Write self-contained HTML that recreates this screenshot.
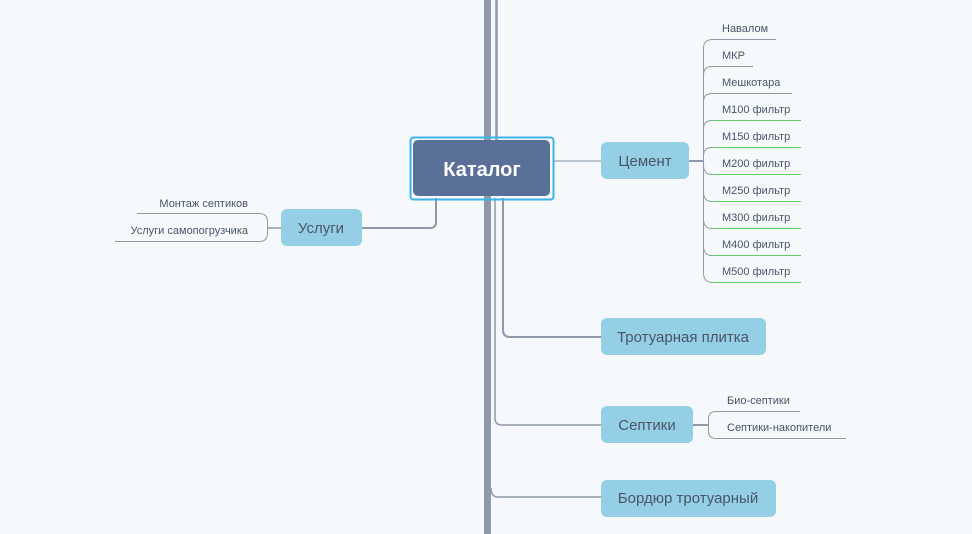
<!DOCTYPE html>
<html><head><meta charset="utf-8"><style>
html,body{margin:0;padding:0;background:#f5f9fc;width:972px;height:534px;overflow:hidden}
svg{display:block}
text{font-family:"Liberation Sans","DejaVu Sans",sans-serif}
</style></head><body>
<svg width="972" height="534" viewBox="0 0 972 534">
<rect width="972" height="534" fill="#f5f9fc"/>
<!-- trunk lines -->
<rect x="484" y="0" width="7" height="534" fill="#8f99aa"/>
<line x1="496.5" y1="0" x2="496.5" y2="140" stroke="#8f99aa" stroke-width="2.5"/>
<path d="M503 198 V330 Q503 337 510 337 H601" fill="none" stroke="#8f99aa" stroke-width="2"/>
<path d="M495 198 V418 Q495 425 502 425 H601" fill="none" stroke="#8f99aa" stroke-width="1.5"/>
<path d="M491 488 Q491 497 498 497 H601" fill="none" stroke="#8f99aa" stroke-width="1.5"/>
<!-- Catalog to cement -->
<line x1="553" y1="161" x2="601" y2="161" stroke="#a8b4c4" stroke-width="1.5"/>
<!-- Catalog to Uslugi -->
<path d="M436 198 V222 Q436 228 430 228 H362" fill="none" stroke="#8f99aa" stroke-width="2"/>
<!-- Catalog node -->
<rect x="410.5" y="137.5" width="143" height="62" rx="3" fill="none" stroke="#3bb4e6" stroke-width="2"/>
<rect x="413" y="140" width="137" height="56" rx="5" fill="#5a7099"/>
<text x="482" y="176" text-anchor="middle" font-size="20" font-weight="bold" fill="#fff">Каталог</text>
<!-- Cement -->
<rect x="601" y="142" width="88" height="37" rx="6" fill="#94cfe6"/>
<text x="645" y="166" text-anchor="middle" font-size="15" fill="#4a5568">Цемент</text>
<line x1="689" y1="161" x2="703" y2="161" stroke="#8f99aa" stroke-width="2"/>
<g fill="none" stroke-width="1">
<path d="M713 39.5 H776 M713 39.5 Q703.5 39.5 703.5 48 V273 Q703.5 282.5 713 282.5" stroke="#8f99aa"/>
<path d="M703.5 75 Q703.5 66.5 712 66.5 H753" stroke="#8f99aa"/>
<path d="M703.5 102 Q703.5 93.5 712 93.5 H792" stroke="#8f99aa"/>
<path d="M703.5 129 Q703.5 120.5 712 120.5" stroke="#8f99aa"/>
<path d="M703.5 156 Q703.5 147.5 712 147.5" stroke="#8f99aa"/>
<path d="M703.5 165 Q703.5 174.5 712 174.5" stroke="#8f99aa"/>
<path d="M703.5 192 Q703.5 201.5 712 201.5" stroke="#8f99aa"/>
<path d="M703.5 219 Q703.5 228.5 712 228.5" stroke="#8f99aa"/>
<path d="M703.5 246 Q703.5 255.5 712 255.5" stroke="#8f99aa"/>
<path d="M712 120.5 H801 M712 147.5 H801 M712 174.5 H801 M712 201.5 H801 M712 228.5 H801 M712 255.5 H801 M712 282.5 H801" stroke="#5ecf5e"/>
</g>
<g font-size="11" fill="#4a5568">
<text x="722" y="32">Навалом</text>
<text x="722" y="59">МКР</text>
<text x="722" y="86">Мешкотара</text>
<text x="722" y="113">М100 фильтр</text>
<text x="722" y="140">М150 фильтр</text>
<text x="722" y="167">М200 фильтр</text>
<text x="722" y="194">М250 фильтр</text>
<text x="722" y="221">М300 фильтр</text>
<text x="722" y="248">М400 фильтр</text>
<text x="722" y="275">М500 фильтр</text>
</g>
<!-- Uslugi -->
<rect x="281" y="209" width="81" height="37" rx="6" fill="#94cfe6"/>
<text x="321" y="233" text-anchor="middle" font-size="15" fill="#4a5568">Услуги</text>
<line x1="267" y1="228" x2="281" y2="228" stroke="#8f99aa" stroke-width="1.5"/>
<path d="M137 213.5 H259 Q267.5 213.5 267.5 222 V233 Q267.5 241.5 259 241.5 H115" fill="none" stroke="#8f99aa" stroke-width="1"/>
<text x="248" y="207" text-anchor="end" font-size="11" fill="#4a5568">Монтаж септиков</text>
<text x="248" y="234" text-anchor="end" font-size="11" fill="#4a5568">Услуги самопогрузчика</text>
<!-- Trotuarnaya -->
<rect x="601" y="318" width="165" height="37" rx="6" fill="#94cfe6"/>
<text x="683" y="342" text-anchor="middle" font-size="15" fill="#4a5568">Тротуарная плитка</text>
<!-- Septiki -->
<rect x="601" y="406" width="92" height="37" rx="6" fill="#94cfe6"/>
<text x="647" y="430" text-anchor="middle" font-size="15" fill="#4a5568">Септики</text>
<line x1="693" y1="425" x2="708" y2="425" stroke="#8f99aa" stroke-width="2"/>
<path d="M800 411.5 H716 Q708.5 411.5 708.5 419 V431 Q708.5 438.5 716 438.5 H846" fill="none" stroke="#8f99aa" stroke-width="1"/>
<text x="727" y="404" font-size="11" fill="#4a5568">Био-септики</text>
<text x="727" y="431" font-size="11" fill="#4a5568">Септики-накопители</text>
<!-- Bordyur -->
<rect x="601" y="480" width="175" height="37" rx="6" fill="#94cfe6"/>
<text x="688" y="503" text-anchor="middle" font-size="15" fill="#4a5568">Бордюр тротуарный</text>
</svg>
</body></html>
